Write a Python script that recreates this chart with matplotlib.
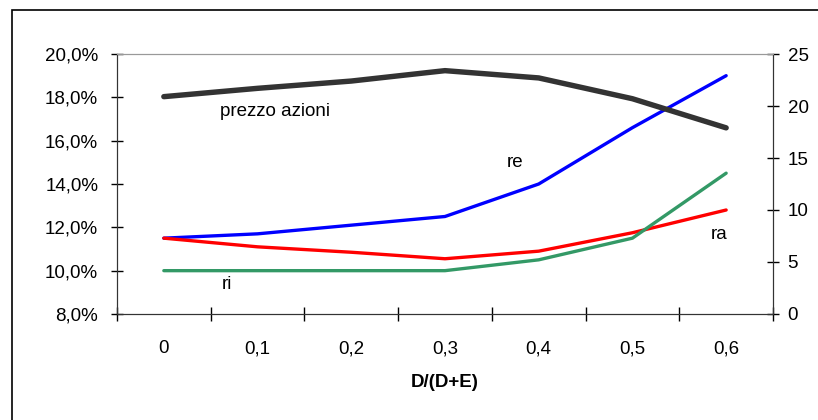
import numpy as np
import matplotlib.pyplot as plt
from matplotlib.patches import Rectangle

plt.rcParams['font.family'] = ['Liberation Sans', 'DejaVu Sans']

# categories: debt ratio D/(D+E)
categories = ['0', '0,1', '0,2', '0,3', '0,4', '0,5', '0,6']

# rates (left axis, %)
re = [11.5, 11.7, 12.1, 12.5, 14.0, 16.6, 19.0]
ra = [11.5, 11.1, 10.85, 10.55, 10.9, 11.75, 12.8]
ri = [10.0, 10.0, 10.0, 10.0, 10.5, 11.5, 14.5]

# share price (right axis)
prezzo = [20.9, 21.7, 22.4, 23.4, 22.7, 20.7, 17.9]

left_ticks = np.arange(8, 20.1, 2)
right_ticks = np.arange(0, 26, 5)

x = np.arange(len(categories))
FS = 13.5

fig = plt.figure(figsize=(8.18, 4.2), dpi=100)
ax = fig.add_axes([0.143, 0.2524, 0.802, 0.619])
ax2 = ax.twinx()

ax.plot(x, re, color='#0000ff', lw=2.4, solid_capstyle='round')
ax.plot(x, ra, color='#ff0000', lw=2.4, solid_capstyle='round')
ax.plot(x, ri, color='#339966', lw=2.4, solid_capstyle='round')
ax2.plot(x, prezzo, color='#333333', lw=3.9, solid_capstyle='round')

ax.set_xlim(-0.5, 6.5)
ax.set_ylim(8, 20)
ax2.set_ylim(0, 25)

ax.set_yticks(left_ticks)
ax.set_yticklabels([('%.1f%%' % v).replace('.', ',') for v in left_ticks])
ax2.set_yticks(right_ticks)

# ticks at category boundaries, labels at centres
ax.set_xticks(np.arange(-0.5, 7, 1))
ax.set_xticklabels([])
ax.set_xticks(x, minor=True)
ax.set_xticklabels(categories, minor=True)
ax.tick_params(axis='x', which='minor', length=0, pad=19, labelsize=FS)
ax.tick_params(axis='x', which='major', direction='inout', length=10, width=1)
ax.tick_params(axis='y', direction='inout', length=9, width=1, pad=9, labelsize=FS)
ax2.tick_params(axis='y', direction='inout', length=9, width=1, pad=6, labelsize=FS)

ax.set_xlabel('D/(D+E)', fontweight='bold', fontsize=FS, labelpad=12)

for a in (ax, ax2):
    a.spines['top'].set_color('#999999')
    a.spines['left'].set_color('#333333')
    a.spines['right'].set_color('#333333')
    a.spines['bottom'].set_color('#333333')

ax.text(0.6, 17.34, 'prezzo azioni', fontsize=FS, va='center', ha='left')
ax.text(3.75, 15.0, 're', fontsize=FS, va='center', ha='center')
ax.text(5.92, 11.65, 'ra', fontsize=FS, va='center', ha='center')
ax.text(0.67, 9.34, 'ri', fontsize=FS, va='center', ha='center')

# outer chart-area frame
fig.patches.append(Rectangle((12 / 818, -0.1), 1.2, 1 - 10 / 420 + 0.1,
                             transform=fig.transFigure, fill=False,
                             edgecolor='black', lw=1.2, clip_on=False))

fig.savefig('out.png', dpi=100)
